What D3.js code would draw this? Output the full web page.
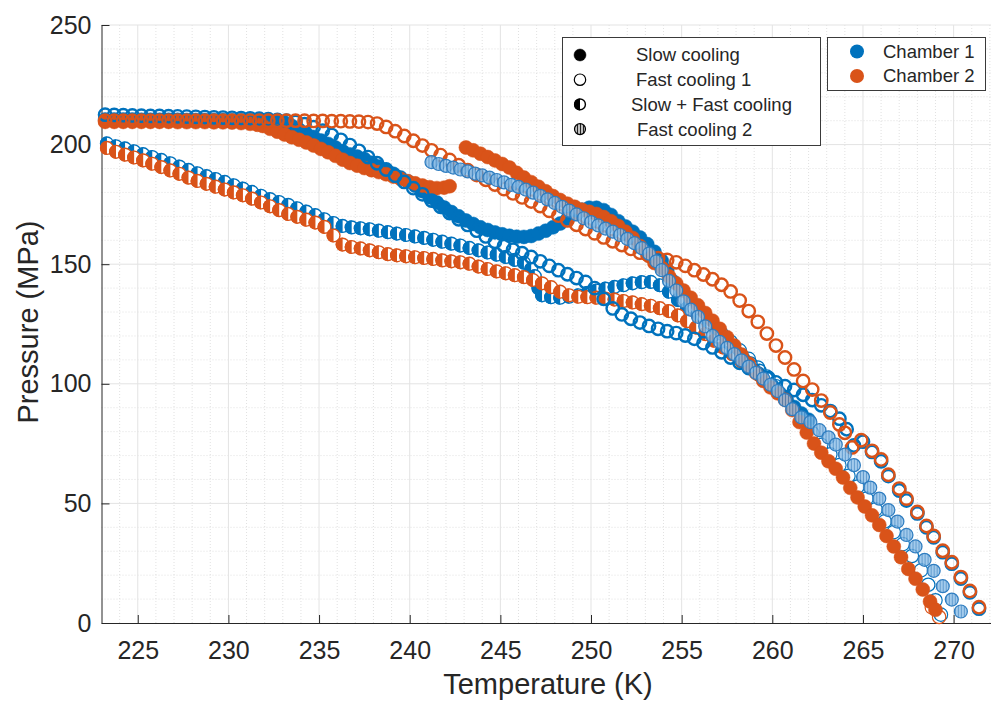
<!DOCTYPE html>
<html>
<head>
<meta charset="utf-8">
<script src="https://cdn.jsdelivr.net/npm/d3@7"></script>
<style>
  body { margin: 0; background: #fff; }
  svg { display: block; font-family: "Liberation Sans", Arial, sans-serif; }
</style>
</head>
<body>
<svg id="chart" width="991" height="701"></svg>
<script>
// ---- data: [temperature K, pressure MPa] ----
const c1Slow = [[223.2,210.5],[223.7,210.5],[224.2,210.5],[224.7,210.5],[225.2,210.4],[225.7,210.4],[226.2,210.4],[226.7,210.4],[227.2,210.4],[227.7,210.3],[228.2,210.3],[228.7,210.3],[229.2,210.3],[229.7,210.3],[230.2,210.2],[230.7,210.2],[231.2,210.2],[231.7,210.1],[232.2,210.0],[232.7,209.8],[233.1,209.2],[233.5,207.8],[233.9,206.2],[234.3,204.6],[234.7,203.2],[235.1,201.7],[235.5,200.3],[235.9,198.8],[236.3,197.2],[236.7,195.9],[237.1,195.0],[237.5,194.0],[237.9,192.4],[238.3,190.8],[238.7,189.3],[239.1,187.8],[239.5,186.2],[239.9,184.6],[240.3,182.8],[240.7,180.5],[241.1,178.0],[241.5,175.8],[241.9,173.7],[242.3,171.8],[242.7,170.0],[243.1,168.3],[243.5,166.8],[243.9,165.4],[244.3,164.3],[244.7,163.3],[245.1,162.5],[245.5,161.9],[245.9,161.5],[246.3,161.4],[246.7,161.8],[247.1,162.8],[247.5,164.0],[247.9,165.4],[248.3,167.0],[248.7,169.0],[249.1,171.0],[249.5,172.8],[249.9,173.6],[250.3,173.6],[250.7,172.6],[251.1,170.6],[251.5,168.0],[251.9,165.8],[252.3,163.6],[252.7,161.2],[253.1,158.4],[253.5,155.2],[253.9,151.5],[254.2,147.5],[254.5,143.0],[254.8,138.5],[255.2,134.5],[255.6,131.0],[256.0,127.6],[256.4,124.6],[256.8,121.6],[257.2,118.8],[257.6,116.0],[258.0,113.2],[258.4,110.5],[258.8,107.6],[259.2,104.8],[259.6,102.0],[260.0,99.2],[260.4,96.2],[260.8,93.2],[261.2,90.3],[261.6,87.6],[262.0,85.0]];

const c2Slow = [[223.2,209.5],[223.7,209.5],[224.2,209.5],[224.7,209.5],[225.2,209.5],[225.7,209.5],[226.2,209.5],[226.7,209.5],[227.2,209.4],[227.7,209.4],[228.2,209.4],[228.7,209.4],[229.2,209.3],[229.7,209.3],[230.2,209.2],[230.7,209.0],[231.2,208.7],[231.6,208.3],[231.9,207.8],[232.3,206.6],[232.7,205.4],[233.1,204.2],[233.5,203.1],[233.9,202.0],[234.3,200.9],[234.7,199.6],[235.1,198.2],[235.5,196.8],[235.9,195.3],[236.3,193.7],[236.7,192.3],[237.1,191.2],[237.5,190.2],[237.9,189.3],[238.3,188.5],[238.7,187.6],[239.1,186.6],[239.5,185.6],[239.9,184.7],[240.3,183.8],[240.7,182.9],[241.1,182.2],[241.5,181.8],[241.9,182.0],[242.2,182.6]];

const c2Slow2 = [[243.1,198.8],[243.5,197.6],[243.9,196.2],[244.3,194.8],[244.7,193.4],[245.1,191.9],[245.5,190.4],[245.9,188.2],[246.3,186.2],[246.7,184.3],[247.1,182.4],[247.5,180.5],[247.9,178.5],[248.3,176.8],[248.7,175.3],[249.1,174.0],[249.5,172.8],[249.9,171.9],[250.3,171.0],[250.7,169.7],[251.1,168.0],[251.5,166.0],[251.9,163.6],[252.3,161.0],[252.7,157.6],[253.1,154.0],[253.5,150.5],[253.9,148.5],[254.3,145.0],[254.7,142.0],[255.1,139.0],[255.5,136.0],[255.9,132.8],[256.3,129.6],[256.7,126.4],[257.1,123.0],[257.5,119.5],[257.9,116.0],[258.3,112.2],[258.7,108.5],[259.1,104.5],[259.5,101.2],[259.9,98.5],[260.3,96.0],[260.7,93.3],[261.1,89.0],[261.5,84.0],[261.9,79.6],[262.3,75.0],[262.7,71.2],[263.1,67.6],[263.5,64.5],[263.9,60.8],[264.3,56.5],[264.7,52.5],[265.1,48.7],[265.5,45.0],[265.9,41.0],[266.3,36.4],[266.7,32.0],[267.1,27.5],[267.5,22.6],[267.9,18.5],[268.3,14.0],[268.7,9.0],[269.0,5.5]];

const c1Mixed = [[223.3,200.5],[223.8,199.3],[224.3,198.4],[224.8,197.2],[225.3,196.0],[225.8,194.8],[226.3,193.6],[226.8,192.2],[227.3,190.8],[227.8,189.4],[228.3,188.0],[228.8,186.8],[229.3,185.6],[229.8,184.4],[230.3,183.0],[230.8,181.6],[231.3,180.2],[231.8,178.6],[232.3,177.2],[232.8,176.0],[233.3,174.8],[233.8,173.4],[234.3,172.0],[234.8,170.5],[235.3,168.8],[235.8,167.2],[236.3,166.0],[236.8,165.4],[237.3,165.0],[237.8,164.6],[238.3,164.0],[238.8,163.4],[239.3,162.8],[239.8,162.2],[240.3,161.6],[240.8,161.0],[241.3,160.2],[241.8,159.4],[242.3,158.6],[242.8,157.8],[243.3,156.8],[243.8,155.8],[244.3,154.9],[244.8,154.0],[245.3,153.0],[245.8,151.8],[246.3,150.6],[246.7,148.0],[246.9,145.0],[247.1,140.0],[247.3,137.0],[247.8,136.2],[248.3,136.0],[248.8,136.4],[249.3,137.0],[249.8,138.0],[250.3,139.0],[250.8,139.8],[251.3,140.5],[251.8,141.2],[252.3,142.0],[252.8,142.5],[253.3,142.6],[253.8,141.2],[254.3,138.5],[254.8,135.0],[255.3,131.5],[255.8,128.0],[256.3,124.6],[256.8,121.2],[257.3,118.0],[257.8,115.0],[258.3,112.0],[258.8,108.6],[259.3,105.5],[259.8,102.5]];

const c2Mixed = [[223.3,198.6],[223.8,197.0],[224.3,195.8],[224.8,194.6],[225.3,193.4],[225.8,192.0],[226.3,190.6],[226.8,189.2],[227.3,187.8],[227.8,186.2],[228.3,184.8],[228.8,183.6],[229.3,182.4],[229.8,181.2],[230.3,180.0],[230.8,178.8],[231.3,177.4],[231.8,175.8],[232.3,174.2],[232.8,172.6],[233.3,171.0],[233.8,169.8],[234.3,168.6],[234.8,167.4],[235.3,165.6],[235.8,162.0],[236.3,158.2],[236.8,157.2],[237.3,156.6],[237.8,155.8],[238.3,155.0],[238.8,154.2],[239.3,153.7],[239.8,153.3],[240.3,152.9],[240.8,152.6],[241.3,152.2],[241.8,151.6],[242.3,151.2],[242.8,150.8],[243.3,150.2],[243.8,149.0],[244.3,148.0],[244.8,147.0],[245.3,146.2],[245.8,145.4],[246.3,144.6],[246.8,143.4],[247.3,142.0],[247.8,140.4],[248.3,138.5],[248.8,137.0],[249.3,136.4],[249.8,136.2],[250.3,136.0],[250.8,135.6],[251.3,135.2],[251.8,134.6],[252.3,134.0],[252.8,133.3],[253.3,132.6],[253.8,131.6],[254.3,130.4],[254.8,128.6],[255.3,126.2],[255.8,123.5],[256.3,120.8],[256.8,118.0],[257.3,115.2],[257.8,112.4],[258.3,109.4],[258.8,106.5],[259.3,103.6]];

const c1Fast1 = [[223.2,212.5],[223.7,212.4],[224.2,212.3],[224.7,212.2],[225.2,212.1],[225.7,212.0],[226.2,212.0],[226.7,211.9],[227.2,211.8],[227.7,211.7],[228.2,211.6],[228.7,211.5],[229.2,211.4],[229.7,211.3],[230.2,211.2],[230.7,211.1],[231.2,211.0],[231.7,210.8],[232.2,210.6],[232.7,210.3],[233.2,210.0],[233.7,209.4],[234.2,208.5],[234.7,207.3],[235.2,205.8],[235.7,204.0],[236.2,202.0],[236.7,199.8],[237.2,197.4],[237.7,194.8],[238.2,192.2],[238.7,189.6],[239.2,187.0],[239.7,184.4],[240.2,181.8],[240.7,179.2],[241.2,176.6],[241.7,174.0],[242.2,171.4],[242.7,168.8],[243.2,166.4],[243.7,164.0],[244.2,161.6],[244.7,159.4],[245.2,157.6],[245.7,156.0],[246.2,154.6],[246.7,153.0],[247.2,151.2],[247.7,149.3],[248.2,147.5],[248.7,145.8],[249.2,144.2],[249.7,142.6],[250.2,140.0],[250.7,135.5],[251.2,131.5],[251.7,129.0],[252.2,127.2],[252.7,125.6],[253.2,124.2],[253.7,123.0],[254.2,122.0],[254.7,121.2],[255.2,120.2],[255.7,118.8],[256.2,117.0],[256.7,115.2],[257.2,113.2],[257.7,111.0],[258.2,108.8],[258.7,106.6],[259.2,104.4],[259.7,102.4],[260.2,100.6],[260.7,99.0],[261.2,97.4],[261.7,95.4],[262.2,93.2],[262.7,91.0],[263.2,88.6],[263.7,85.4],[264.1,81.0],[264.5,74.2],[265.0,75.8],[265.5,71.5],[266.0,67.6],[266.4,61.4],[267.0,55.4],[267.4,51.2],[268.0,45.8],[268.5,40.0],[268.9,35.8],[269.4,29.6],[269.9,24.8],[270.4,18.6],[270.9,12.8],[271.4,6.0]];

const c1Fast1b = [[255.2,135.0],[255.7,131.5],[256.2,128.0],[256.7,124.5],[257.2,121.0],[257.7,117.6],[258.2,114.0],[258.7,110.4],[259.2,106.8],[259.7,103.0],[260.2,99.0],[260.7,94.5],[261.2,89.5],[261.7,84.5],[262.2,79.5],[262.7,74.5],[263.2,70.5],[263.7,66.0],[264.2,61.5],[264.7,57.0],[265.2,52.0],[265.7,47.5],[266.2,42.5],[266.7,38.0],[267.2,33.0],[267.7,28.0],[268.2,22.0],[268.6,16.0],[269.0,9.5],[269.3,3.5]];

const c2Fast1 = [[223.2,210.0],[223.7,210.0],[224.2,210.0],[224.7,210.0],[225.2,210.0],[225.7,210.0],[226.2,210.0],[226.7,210.0],[227.2,210.0],[227.7,210.0],[228.2,210.0],[228.7,210.0],[229.2,210.0],[229.7,210.0],[230.2,210.0],[230.7,210.0],[231.2,210.0],[231.7,210.0],[232.2,210.0],[232.7,210.0],[233.2,210.0],[233.7,210.0],[234.2,210.0],[234.7,209.9],[235.2,209.9],[235.7,209.8],[236.2,209.8],[236.7,209.7],[237.2,209.6],[237.7,209.4],[238.2,208.8],[238.7,207.4],[239.2,205.6],[239.7,203.6],[240.2,201.6],[240.7,199.6],[241.2,197.6],[241.7,195.6],[242.2,193.6],[242.7,191.4],[243.2,189.3],[243.7,187.3],[244.2,185.3],[244.7,183.3],[245.2,181.4],[245.7,179.6],[246.2,177.9],[246.7,176.2],[247.2,174.3],[247.7,172.3],[248.2,170.3],[248.7,168.3],[249.2,166.5],[249.7,164.7],[250.2,162.9],[250.7,161.2],[251.2,159.6],[251.7,158.0],[252.2,156.4],[252.7,154.8],[253.2,153.5],[253.7,152.5],[254.2,151.8],[254.7,150.8],[255.2,149.3],[255.7,147.5],[256.2,145.7],[256.7,143.7],[257.2,141.4],[257.7,138.6],[258.2,134.8],[258.7,130.4],[259.2,125.9],[259.7,121.0],[260.2,116.0],[260.7,111.0],[261.2,106.0],[261.7,101.2],[262.2,97.6],[262.7,93.0],[263.2,88.0],[263.7,83.0],[264.0,79.5],[264.4,73.4],[264.9,76.4],[265.5,72.0],[266.0,68.4],[266.4,62.0],[267.0,56.2],[267.4,52.0],[268.0,46.4],[268.5,40.6],[268.9,36.4],[269.4,30.2],[269.9,25.4],[270.4,19.2],[270.9,13.4],[271.4,6.6]];

const c2Fast1b = [[268.8,6.5],[269.2,2.5]];

const c1Fast2 = [[241.2,192.7],[241.6,191.9],[242.0,191.1],[242.4,190.4],[242.8,189.6],[243.2,188.8],[243.6,187.9],[244.0,187.1],[244.4,186.2],[244.8,185.2],[245.2,184.2],[245.6,183.2],[246.0,182.3],[246.4,181.2],[246.8,179.9],[247.2,178.6],[247.6,177.1],[248.0,175.6],[248.4,174.0],[248.8,172.4],[249.2,170.8],[249.6,169.2],[250.0,167.6],[250.4,166.2],[250.8,164.9],[251.2,163.6],[251.6,162.2],[252.0,160.6],[252.4,158.8],[252.8,156.7],[253.2,154.4],[253.6,151.2],[253.9,147.5],[254.3,143.0],[254.7,139.0],[255.1,134.5],[255.5,131.0],[255.9,128.0],[256.3,124.0],[256.7,120.0],[257.1,117.5],[257.5,115.0],[257.9,112.4],[258.3,109.8],[258.7,107.2],[259.1,104.6],[259.5,102.2],[259.9,99.6],[260.3,97.0],[260.7,93.2],[261.1,89.4],[261.6,86.0],[262.1,84.0],[262.6,80.6],[263.1,77.6],[263.5,74.6],[264.0,70.4],[264.5,66.0],[265.0,61.0],[265.4,56.6],[265.9,52.0],[266.4,47.2],[266.9,42.4],[267.4,36.8],[267.9,32.0],[268.4,26.4],[268.9,21.8],[269.4,15.4],[269.9,9.8],[270.4,4.8]];

const xTicks = [225, 230, 235, 240, 245, 250, 255, 260, 265, 270];
const yTicks = [0, 50, 100, 150, 200, 250];
const typeLabels = ['Slow cooling', 'Fast cooling 1', 'Slow + Fast cooling', 'Fast cooling 2'];
const typeKinds = ['filled', 'open', 'half', 'hatched'];
const chamberLabels = ['Chamber 1', 'Chamber 2'];

// ---- setup ----
const blue = '#0072BD', orange = '#D95319', axisColor = '#262626';
const padL = 101.5, padT = 25, padB = 623;
const svg = d3.select('#chart');

const x = d3.scaleLinear().domain([223, 272.5]).range([padL, padL + 49.5 * 18.13]);
const y = d3.scaleLinear().domain([0, 250]).range([padB, padT]);

// hatch patterns for "Fast cooling 2"
const defs = svg.append('defs');
function hatch(id, bg, stripe) {
  const p = defs.append('pattern').attr('id', id)
    .attr('patternUnits', 'userSpaceOnUse').attr('width', 3).attr('height', 3);
  p.append('rect').attr('width', 3).attr('height', 3).attr('fill', bg);
  p.append('rect').attr('width', 1).attr('height', 3).attr('fill', stripe);
}
hatch('hatchBlue', '#8fc0e8', '#3f86c4');
hatch('hatchGray', '#c0c0c0', '#222');

// grid: minor (dotted) then major
const g = svg.append('g');
const xMinor = d3.range(224, 273, 1).filter(v => v % 5 !== 0);
const yMinor = d3.range(10, 250, 10).filter(v => v % 50 !== 0);
g.selectAll('.xm').data(xMinor).join('line')
  .attr('x1', d => x(d)).attr('x2', d => x(d)).attr('y1', padT).attr('y2', padB)
  .attr('stroke', '#d9d9d9').attr('stroke-width', 0.8).attr('stroke-dasharray', '1,2');
g.selectAll('.ym').data(yMinor).join('line')
  .attr('x1', padL).attr('x2', 991).attr('y1', d => y(d)).attr('y2', d => y(d))
  .attr('stroke', '#d9d9d9').attr('stroke-width', 0.8).attr('stroke-dasharray', '1,2');
g.selectAll('.xM').data(xTicks).join('line')
  .attr('x1', d => x(d)).attr('x2', d => x(d)).attr('y1', padT).attr('y2', padB)
  .attr('stroke', '#e3e3e3').attr('stroke-width', 1);
g.selectAll('.yM').data(yTicks.filter(v => v > 0)).join('line')
  .attr('x1', padL).attr('x2', 991).attr('y1', d => y(d)).attr('y2', d => y(d))
  .attr('stroke', '#e3e3e3').attr('stroke-width', 1);

// axes (ticks inside, like MATLAB)
const xAxis = svg.append('g').attr('transform', `translate(0,${padB})`)
  .call(d3.axisBottom(x).tickValues(xTicks).tickSizeInner(-8).tickSizeOuter(0).tickPadding(18));
const yAxis = svg.append('g').attr('transform', `translate(${padL},0)`)
  .call(d3.axisLeft(y).tickValues(yTicks).tickSizeInner(-8).tickSizeOuter(0).tickPadding(10));
[xAxis, yAxis].forEach(a => {
  a.select('.domain').attr('stroke', axisColor);
  a.selectAll('.tick line').attr('stroke', axisColor);
  a.selectAll('.tick text').attr('fill', axisColor).style('font-family', '"Liberation Sans", Arial, sans-serif');
});
xAxis.selectAll('.tick text').style('font-size', '25px');
yAxis.selectAll('.tick text').style('font-size', '25px');

svg.append('text').attr('x', 548).attr('y', 694).attr('text-anchor', 'middle')
  .attr('fill', axisColor).style('font-size', '29px').text('Temperature (K)');
svg.append('text').attr('transform', 'translate(38,322) rotate(-90)').attr('text-anchor', 'middle')
  .attr('fill', axisColor).style('font-size', '29px').text('Pressure (MPa)');

// ---- markers ----
function drawMarker(sel, kind, color, r) {
  if (kind === 'filled') {
    sel.append('circle').attr('r', r).attr('fill', color).attr('stroke', color).attr('stroke-width', 0.5);
  } else if (kind === 'open') {
    sel.append('circle').attr('r', r - 0.8).attr('fill', 'none').attr('stroke', color).attr('stroke-width', 2.4);
  } else if (kind === 'thin') {
    sel.append('circle').attr('r', r - 0.3).attr('fill', 'none').attr('stroke', color).attr('stroke-width', 1.2);
  } else if (kind === 'half') {
    sel.append('circle').attr('r', r - 0.6).attr('fill', '#fff').attr('stroke', color).attr('stroke-width', 1.4);
    sel.append('path').attr('d', `M0,${-r}A${r},${r} 0 0 0 0,${r}Z`).attr('fill', color);
  } else if (kind === 'hatched') {
    const dark = color === blue;
    sel.append('circle').attr('r', r - 0.5)
      .attr('fill', dark ? 'url(#hatchBlue)' : 'url(#hatchGray)')
      .attr('fill-opacity', dark ? 0.82 : 1)
      .attr('stroke', dark ? '#2f7dc0' : color).attr('stroke-width', 1.2);
  }
}

function drawSeries(data, kind, color) {
  svg.append('g').selectAll('g').data(data).join('g')
    .attr('transform', d => `translate(${x(d[0])},${y(d[1])})`)
    .each(function () { drawMarker(d3.select(this), kind, color, 7); });
}

drawSeries(c1Slow, 'filled', blue);
drawSeries(c2Slow, 'filled', orange);
drawSeries(c1Mixed, 'half', blue);
drawSeries(c2Mixed, 'half', orange);
drawSeries(c1Fast1b, 'thin', blue);
drawSeries(c2Fast1b, 'thin', orange);
drawSeries(c1Fast1, 'open', blue);
drawSeries(c2Fast1, 'open', orange);
drawSeries(c2Slow2, 'filled', orange);
drawSeries(c1Fast2, 'hatched', blue);

// ---- legends ----
const leg1 = svg.append('g');
leg1.append('rect').attr('x', 562.5).attr('y', 37.5).attr('width', 258).attr('height', 108)
  .attr('fill', '#fff').attr('stroke', '#3a3a3a').attr('stroke-width', 1);
const textX = [636, 636, 631, 637];
typeLabels.forEach((t, i) => {
  const cy = 55 + i * 24.7;
  const m = leg1.append('g').attr('transform', `translate(580,${cy})`);
  drawMarker(m, typeKinds[i] === 'open' ? 'thin' : typeKinds[i], '#000', 6);
  leg1.append('text').attr('x', textX[i]).attr('y', cy).attr('dy', '0.35em')
    .attr('fill', axisColor).style('font-size', '18.5px').text(t);
});

const leg2 = svg.append('g');
leg2.append('rect').attr('x', 827.5).attr('y', 37.5).attr('width', 158).attr('height', 53)
  .attr('fill', '#fff').attr('stroke', '#3a3a3a').attr('stroke-width', 1);
chamberLabels.forEach((t, i) => {
  const cy = 51.5 + i * 24.5;
  leg2.append('circle').attr('cx', 857).attr('cy', cy).attr('r', 7).attr('fill', i === 0 ? blue : orange);
  leg2.append('text').attr('x', 883).attr('y', cy).attr('dy', '0.35em')
    .attr('fill', axisColor).style('font-size', '18.5px').text(t);
});
</script>
</body>
</html>
